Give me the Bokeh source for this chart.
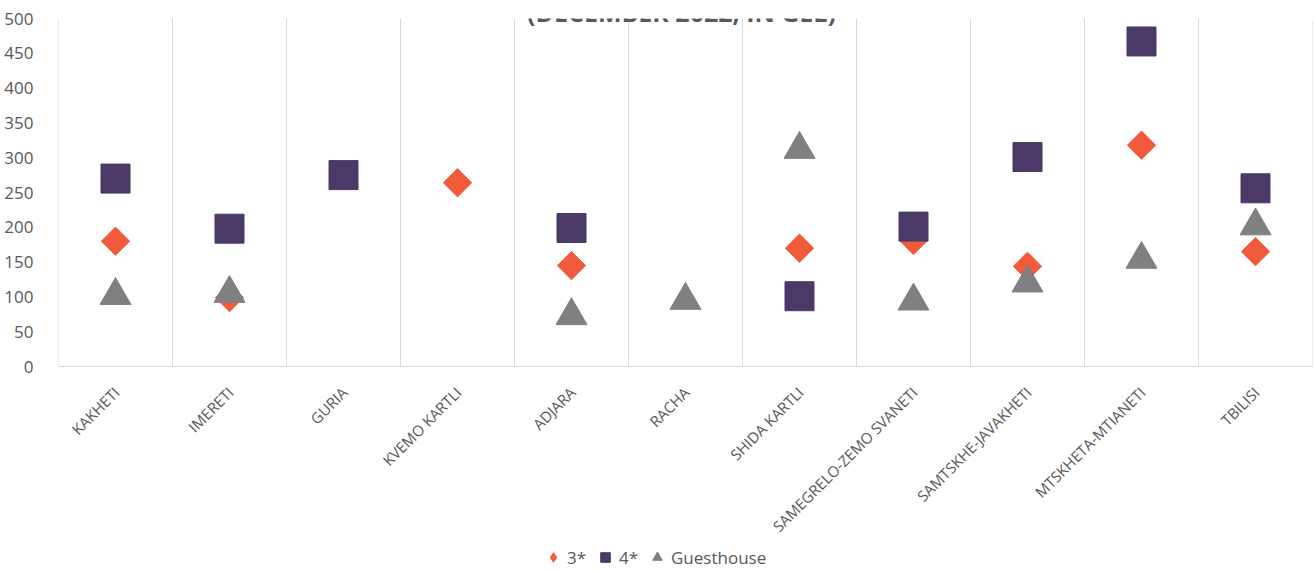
import math
from bokeh.plotting import figure
from bokeh.models import (Legend, LegendItem, FixedTicker, Label, LabelSet, Range1d,
                          ColumnDataSource)
from bokeh.core.properties import value
from bokeh.embed import file_html
from bokeh.resources import INLINE

regions = ["KAKHETI", "IMERETI", "GURIA", "KVEMO KARTLI", "ADJARA", "RACHA",
           "SHIDA KARTLI", "SAMEGRELO-ZEMO SVANETI", "SAMTSKHE-JAVAKHETI",
           "MTSKHETA-MTIANETI", "TBILISI"]
nan = float("nan")
three_star = [180, 99, nan, 264, 145, nan, 170, 181, 144, 318, 165]
four_star = [270, 198, 275, nan, 199, nan, 101, 201, 301, 467, 256]
guesthouse = [102, 105, nan, nan, 73, 95, 312, 94, 120, 154, 202]
y_ticks = [0, 50, 100, 150, 200, 250, 300, 350, 400, 450, 500]
title_text = "(DECEMBER 2022, IN GEL)"

xs = list(range(1, len(regions) + 1))
src = ColumnDataSource(dict(x=xs, s3=three_star, s4=four_star, g=guesthouse))
lab_src = ColumnDataSource(dict(x=xs, y=[y_ticks[0]] * len(xs), text=regions))
bounds = [i + 0.5 for i in range(len(regions) + 1)]

FONT = "Open Sans"
GRAY = "#595959"
LINE = "#d9d9d9"
C3, C4, CG = "#F15B3B", "#4B3A68", "#808080"

W, H = 1314, 569
TOP, AXIS_Y = 18, 366            # pixel rows of the 500 and 0 values
y_max = y_ticks[-1]
y_min = -y_max * (H - AXIS_Y) / (AXIS_Y - TOP)   # frame extends to the bottom for labels/legend

p = figure(width=W, height=H, output_backend="svg", toolbar_location=None,
           x_range=Range1d(0.5, len(regions) + 0.5), y_range=Range1d(y_min, y_max),
           x_axis_location=None,
           min_border_left=58, min_border_right=2, min_border_top=TOP,
           min_border_bottom=0, outline_line_color=None)

# category separators and the baseline
p.xgrid.grid_line_color = None
p.ygrid.ticker = FixedTicker(ticks=[y_ticks[0]])
p.ygrid.grid_line_color = LINE
p.segment(x0=bounds, y0=[y_ticks[0]] * len(bounds), x1=bounds, y1=[y_max] * len(bounds),
          line_color=LINE, line_width=1)

# y axis
p.yaxis.ticker = FixedTicker(ticks=y_ticks)
p.yaxis.axis_line_color = None
p.yaxis.major_tick_line_color = None
p.yaxis.minor_tick_line_color = None
p.yaxis.major_label_standoff = 19
p.yaxis.major_label_text_font = FONT
p.yaxis.major_label_text_font_size = "17px"
p.yaxis.major_label_text_color = GRAY

# category labels (rotated)
labels = LabelSet(x="x", y="y", text="text", source=lab_src, angle=math.pi / 4,
                  x_offset=1, y_offset=-23, text_align="right", text_baseline="middle",
                  text_font=value(FONT), text_font_size=value("15px"),
                  text_color=value(GRAY))
p.add_layout(labels)

r3 = p.scatter("x", "s3", source=src, marker="square", angle=math.pi / 4, size=20,
               fill_color=C3, line_color=C3)
r4 = p.scatter("x", "s4", source=src, marker="square", size=29,
               fill_color=C4, line_color=C4)
rg = p.scatter("x", "g", source=src, marker="triangle", size=31,
               fill_color=CG, line_color=CG)
# legend key for the diamond series (not drawn on the chart)
r3_key = p.scatter(x=[nan], y=[nan], marker="diamond", fill_color=C3, line_color=C3)

legend = Legend(items=[LegendItem(label="3*", renderers=[r3_key]),
                       LegendItem(label="4*", renderers=[r4]),
                       LegendItem(label="Guesthouse", renderers=[rg])],
                orientation="horizontal", location=(481, 0),
                border_line_color=None, background_fill_alpha=0,
                padding=0, margin=0, spacing=4, label_standoff=0,
                glyph_width=28, glyph_height=24,
                label_text_font=FONT, label_text_font_size="17px",
                label_text_color=GRAY)
p.add_layout(legend, "center")

title = Label(x=6, y=510, x_offset=-4, text=title_text, text_align="center",
              text_baseline="alphabetic", text_font=FONT, text_font_size="25px",
              text_font_style="bold", text_color=GRAY)
p.add_layout(title)

open("out.html", "w").write(file_html(p, INLINE))
